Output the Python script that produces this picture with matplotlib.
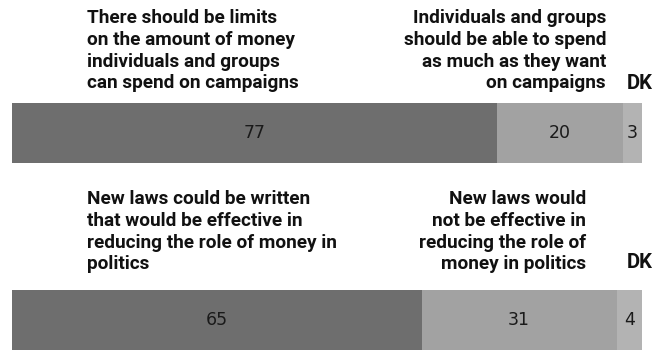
import matplotlib
matplotlib.use("Agg")
import matplotlib.pyplot as plt

# survey shares, percent
questions = ["limits", "laws"]
side_a = [77, 65]
side_b = [20, 31]
dont_know = [3, 4]

label_a = [
    "There should be limits\non the amount of money\nindividuals and groups\ncan spend on campaigns",
    "New laws could be written\nthat would be effective in\nreducing the role of money in\npolitics",
]
label_b = [
    "Individuals and groups\nshould be able to spend\nas much as they want\non campaigns",
    "New laws would\nnot be effective in\nreducing the role of\nmoney in politics",
]

dark = "#6e6e6e"
mid = "#a2a2a2"
light = "#b3b3b3"

W, H = 655, 350
fig = plt.figure(figsize=(W / 100, H / 100), dpi=100)
ax = fig.add_axes([0, 0, 1, 1])
# x in percent, 0 at 12px and 100 at 642px; y in pixels from the top
x0, span = 12, 630
ax.set_xlim(-x0 / span * 100, (W - x0) / span * 100)
ax.set_ylim(H, 0)
ax.axis("off")

bar_y = [133, 320]
bar_h = 60
head_top = [9, 190]
dk_base = [89, 268]
right_edge_b = [606, 586]

bold = dict(family="Roboto", fontweight="bold", fontsize=13.7, color="#111111", linespacing=1.27)

for i, q in enumerate(questions):
    a, b, d = side_a[i], side_b[i], dont_know[i]
    y = bar_y[i]
    ax.barh(y, a, height=bar_h, left=0, color=dark, edgecolor="none")
    ax.barh(y, b, height=bar_h, left=a, color=mid, edgecolor="none")
    ax.barh(y, d, height=bar_h, left=a + b, color=light, edgecolor="none")

    for left, val in [(0, a), (a, b), (a + b, d)]:
        ax.text(left + val / 2, y, str(val), ha="center", va="center",
                fontsize=12.5, family="DejaVu Sans", color="#1a1a1a")

    ax.text((87 - x0) / span * 100, head_top[i], label_a[i], ha="left", va="top", **bold)
    ax.text((right_edge_b[i] - x0) / span * 100, head_top[i], label_b[i], ha="right", va="top", **bold)
    ax.text((640 - x0) / span * 100, dk_base[i], "DK", ha="center", va="baseline",
            **{**bold, "fontsize": 14.5})

fig.savefig("out.png", dpi=100)
